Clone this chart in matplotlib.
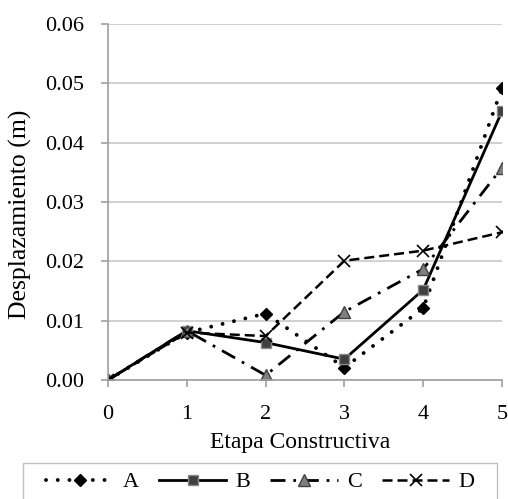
import numpy as np
import matplotlib.pyplot as plt
from matplotlib.patches import Rectangle

plt.rcParams['font.family'] = ['Liberation Serif', 'DejaVu Serif']

etapas = [0, 1, 2, 3, 4, 5]
serie_a = [0.0, 0.0080, 0.0112, 0.0021, 0.0121, 0.0492]
serie_b = [0.0, 0.0083, 0.0063, 0.0035, 0.0152, 0.0453]
serie_c = [0.0, 0.0083, 0.0008, 0.0115, 0.0187, 0.0358]
serie_d = [0.0, 0.0080, 0.0074, 0.0201, 0.0218, 0.0249]
nombres = ['A', 'B', 'C', 'D']

fig = plt.figure(figsize=(5.08, 4.99), dpi=100)
ax = fig.add_axes([0.2126, 0.2385, 0.7756, 0.7135])

ax.plot(etapas, serie_a, color='black', linestyle=(0, (0.01, 3.0)), linewidth=2.8,
        dash_capstyle='round', marker='D', markersize=6.5,
        markerfacecolor='black', markeredgecolor='black', label=nombres[0])
ax.plot(etapas, serie_b, color='black', linestyle='-', linewidth=2,
        marker='s', markersize=6.5, markerfacecolor='#404040', markeredgecolor='#8a8a8a',
        label=nombres[1])
ax.plot(etapas, serie_c, color='black', linestyle=(0, (5.4, 2.8, 1, 2.8)), linewidth=2,
        marker='^', markersize=8.5, markerfacecolor='#808080', markeredgecolor='#404040',
        label=nombres[2])
ax.plot(etapas, serie_d, color='black', linestyle=(0, (4, 2)), linewidth=1.8,
        marker='x', markersize=9, markeredgewidth=1.2, label=nombres[3])

ax.set_xlim(0, 5)
ax.set_ylim(0, 0.06)
ax.set_xticks(etapas)
ax.set_yticks(np.arange(0, 0.061, 0.01))
ax.yaxis.set_major_formatter(plt.FormatStrFormatter('%.2f'))
ax.grid(True, axis='y', color='#c8c8c8', linewidth=1.2)
ax.set_axisbelow(True)
for s in ['top', 'right']:
    ax.spines[s].set_visible(False)
for s in ['left', 'bottom']:
    ax.spines[s].set_color('#a0a0a0')
    ax.spines[s].set_linewidth(1.2)
ax.tick_params(axis='both', labelsize=16, color='#a0a0a0', length=5, width=1.2)
ax.tick_params(axis='x', pad=13)
ax.tick_params(axis='y', pad=12)

# axis titles placed in figure coords
fig.text(0.591, 0.102, 'Etapa Constructiva', fontsize=17, ha='center', va='baseline')
fig.text(0.0404, 0.571, 'Desplazamiento (m)', fontsize=18.5, rotation=90,
         ha='center', va='center')

# legend without its own frame, box drawn separately (wider side padding like Excel)
fig.legend(loc='center', bbox_to_anchor=(0.512, 0.034), ncol=4, frameon=False,
           fontsize=16, handlelength=3.05, columnspacing=0.9, handletextpad=0.4,
           borderpad=0, borderaxespad=0)
fig.patches.append(Rectangle((0.045, -0.01), 0.933, 0.082, transform=fig.transFigure,
                             fill=False, edgecolor='#c0c0c0', linewidth=1))

plt.savefig('out.png', dpi=100)
